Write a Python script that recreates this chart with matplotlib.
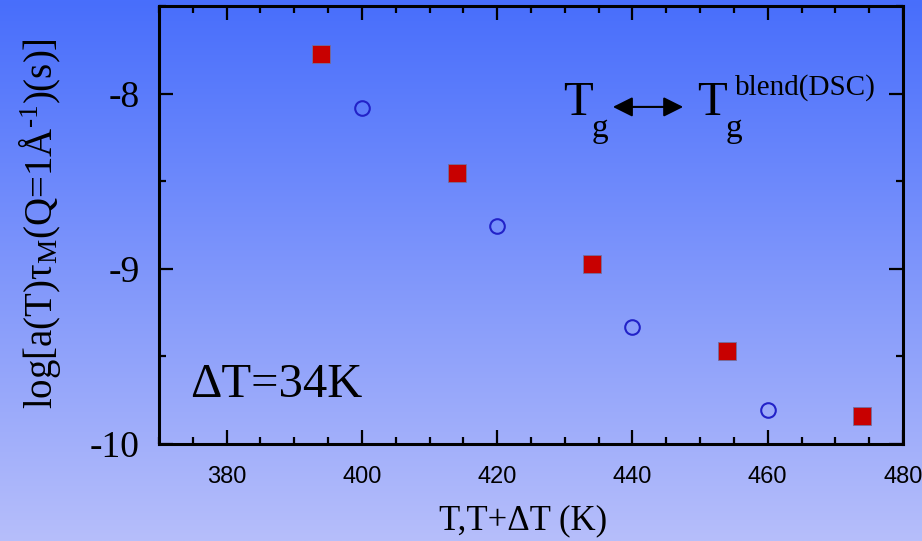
import numpy as np
import matplotlib
matplotlib.use('Agg')
import matplotlib.pyplot as plt
from matplotlib.ticker import MultipleLocator

# valeurs
t_shifted = [394, 414, 434, 454, 474]
tau_shifted = [-7.776, -8.452, -8.973, -9.470, -9.840]
t_blend = [400, 420, 440, 460]
tau_blend = [-8.08, -8.756, -9.335, -9.805]

x_ticks = [380, 400, 420, 440, 460, 480]
y_ticks = [-10, -9, -8]
y_tick_labels = ['-10', '-9', '-8']

plt.rcParams['font.family'] = ['Liberation Serif', 'DejaVu Serif']
plt.rcParams['mathtext.fontset'] = 'custom'
plt.rcParams['mathtext.rm'] = 'Liberation Serif'
plt.rcParams['mathtext.it'] = 'Liberation Serif:italic'

fig = plt.figure(figsize=(9.22, 5.41), dpi=100)

# fond en dégradé
bg = fig.add_axes([0, 0, 1, 1], zorder=-10)
top = np.array([72, 110, 252]) / 255
bot = np.array([182, 190, 250]) / 255
grad = np.linspace(0, 1, 256)[:, None, None]
img = top + (bot - top) * grad
bg.imshow(np.repeat(img, 2, axis=1), aspect='auto', extent=[0, 1, 0, 1])
bg.axis('off')

ax = fig.add_axes([0.1725, 0.1793, 0.8069, 0.8096])
ax.set_facecolor('none')

ax.plot(t_shifted, tau_shifted, ls='none', marker='s', ms=13.5,
        mfc='#c80000', mec='#7070a0', mew=0.6, zorder=3)
ax.plot(t_blend, tau_blend, ls='none', marker='o', ms=10.5,
        mfc='none', mec='#2222c8', mew=1.5, zorder=3)

ax.set_xlim(370, 480)
ax.set_ylim(-10, -7.5)
ax.set_xticks(x_ticks)
ax.set_xticklabels([str(v) for v in x_ticks], family='Liberation Sans', fontsize=17)
ax.set_yticks(y_ticks)
ax.set_yticklabels(y_tick_labels, fontsize=27)
ax.xaxis.set_minor_locator(MultipleLocator(5))
ax.yaxis.set_minor_locator(MultipleLocator(0.5))
ax.tick_params(which='both', direction='in', top=True, right=True, width=1.6)
ax.tick_params(which='major', length=10)
ax.tick_params(which='minor', length=5)
ax.tick_params(axis='x', pad=16)
ax.tick_params(axis='y', pad=14)
for s in ax.spines.values():
    s.set_linewidth(2.2)

ax.text(374.6, -9.73, 'ΔT=34K', fontsize=35, va='baseline', ha='left')

# T_g <-> T_g^blend(DSC)
ax.text(429.7, -8.122, 'T', fontsize=35, va='baseline', ha='left')
ax.text(434.0, -8.248, 'g', fontsize=24, va='baseline', ha='left')
ax.annotate('', xy=(437.1, -8.076), xytext=(447.5, -8.076),
            arrowprops=dict(arrowstyle='<|-|>', color='black', lw=1.5,
                            mutation_scale=30, shrinkA=0, shrinkB=0))
ax.text(449.5, -8.122, 'T', fontsize=35, va='baseline', ha='left')
ax.text(453.8, -8.248, 'g', fontsize=24, va='baseline', ha='left')
ax.text(455.2, -8.008, 'blend(DSC)', fontsize=21, va='baseline', ha='left')

fig.text(40 / 922, 0.586, 'log[a(T)τ$_{\\mathrm{M}}$(Q=1Å$^{\\mathrm{\u20101}}$)(s)]',
         rotation=90, fontsize=28, ha='center', va='center')
fig.text(523 / 922, 1 - 504 / 541, 'T,T+ΔT (K)', fontsize=25, ha='center', va='top')

fig.savefig('out.png', dpi=100)
